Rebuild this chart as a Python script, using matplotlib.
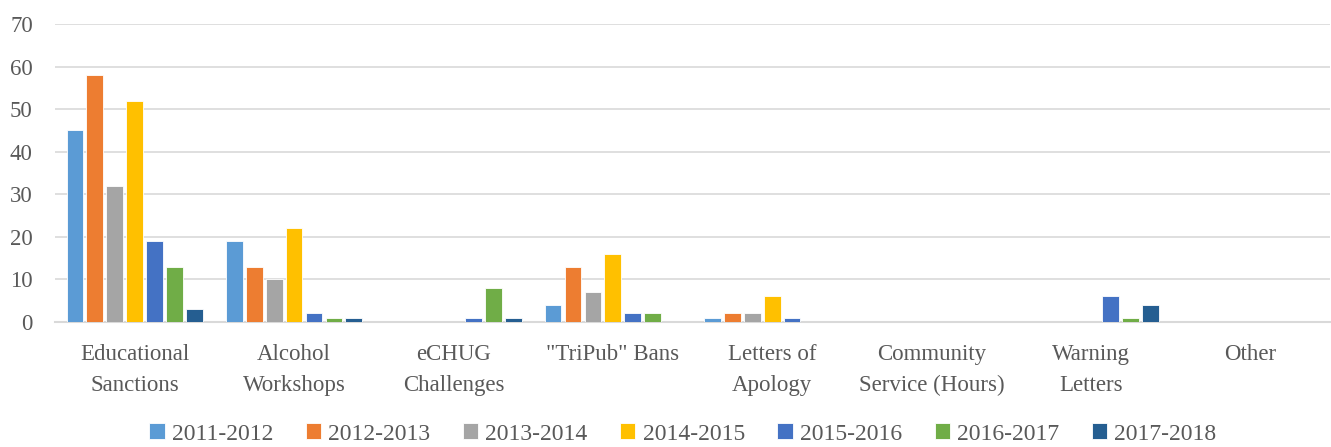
import matplotlib
matplotlib.use("Agg")
import matplotlib.pyplot as plt
import numpy as np

categories = ["Educational\nSanctions", "Alcohol\nWorkshops", "eCHUG\nChallenges", "\"TriPub\" Bans",
              "Letters of\nApology", "Community\nService (Hours)", "Warning\nLetters", "Other"]
series_names = ["2011-2012", "2012-2013", "2013-2014", "2014-2015", "2015-2016", "2016-2017", "2017-2018"]
v2011 = [45, 19, 0, 4, 1, 0, 0, 0]
v2012 = [58, 13, 0, 13, 2, 0, 0, 0]
v2013 = [32, 10, 0, 7, 2, 0, 0, 0]
v2014 = [52, 22, 0, 16, 6, 0, 0, 0]
v2015 = [19, 2, 1, 2, 1, 0, 6, 0]
v2016 = [13, 1, 8, 2, 0, 0, 1, 0]
v2017 = [3, 1, 1, 0, 0, 0, 4, 0]
values = [v2011, v2012, v2013, v2014, v2015, v2016, v2017]
colors = ["#5B9BD5", "#ED7D31", "#A5A5A5", "#FFC000", "#4472C4", "#70AD47", "#255E91"]

plt.rcParams['font.family'] = ['Liberation Serif', 'DejaVu Serif']
fig = plt.figure(figsize=(13.31, 4.47), dpi=100)
ax = fig.add_axes([55/1331, 1-322/447, 1-56/1331, (322-24)/447])

x = np.arange(len(categories))
pitch = 0.125
bw = 0.105
for i, (name, vals, c) in enumerate(zip(series_names, values, colors)):
    ax.bar(x + (i - 3) * pitch, vals, width=bw, color=c, label=name,
           edgecolor="white", linewidth=0.6, zorder=3)

ax.set_xlim(-0.5, len(categories) - 0.5)
ax.set_ylim(0, 70)
ax.set_yticks(range(0, 71, 10))
ax.yaxis.grid(True, color="#D9D9D9", linewidth=1.2, zorder=0)
ax.set_axisbelow(True)
for s in ["top", "right", "left"]:
    ax.spines[s].set_visible(False)
ax.spines["bottom"].set_color("#D9D9D9")
ax.spines["bottom"].set_linewidth(1.5)
ax.tick_params(axis="both", length=0, colors="#595959")
ax.tick_params(axis="x", pad=16, labelsize=16.5)
ax.tick_params(axis="y", pad=16, labelsize=16.5)
ax.set_xticks(x)
ax.set_xticklabels(categories, linespacing=1.6)

leg = fig.legend(loc="center", bbox_to_anchor=(0.513, 1-434/447), ncol=7, frameon=False,
                 fontsize=17, handlelength=0.65, handleheight=0.65, handletextpad=0.3,
                 columnspacing=1.38)
for t in leg.get_texts():
    t.set_color("#595959")

fig.savefig("out.png", dpi=100)
